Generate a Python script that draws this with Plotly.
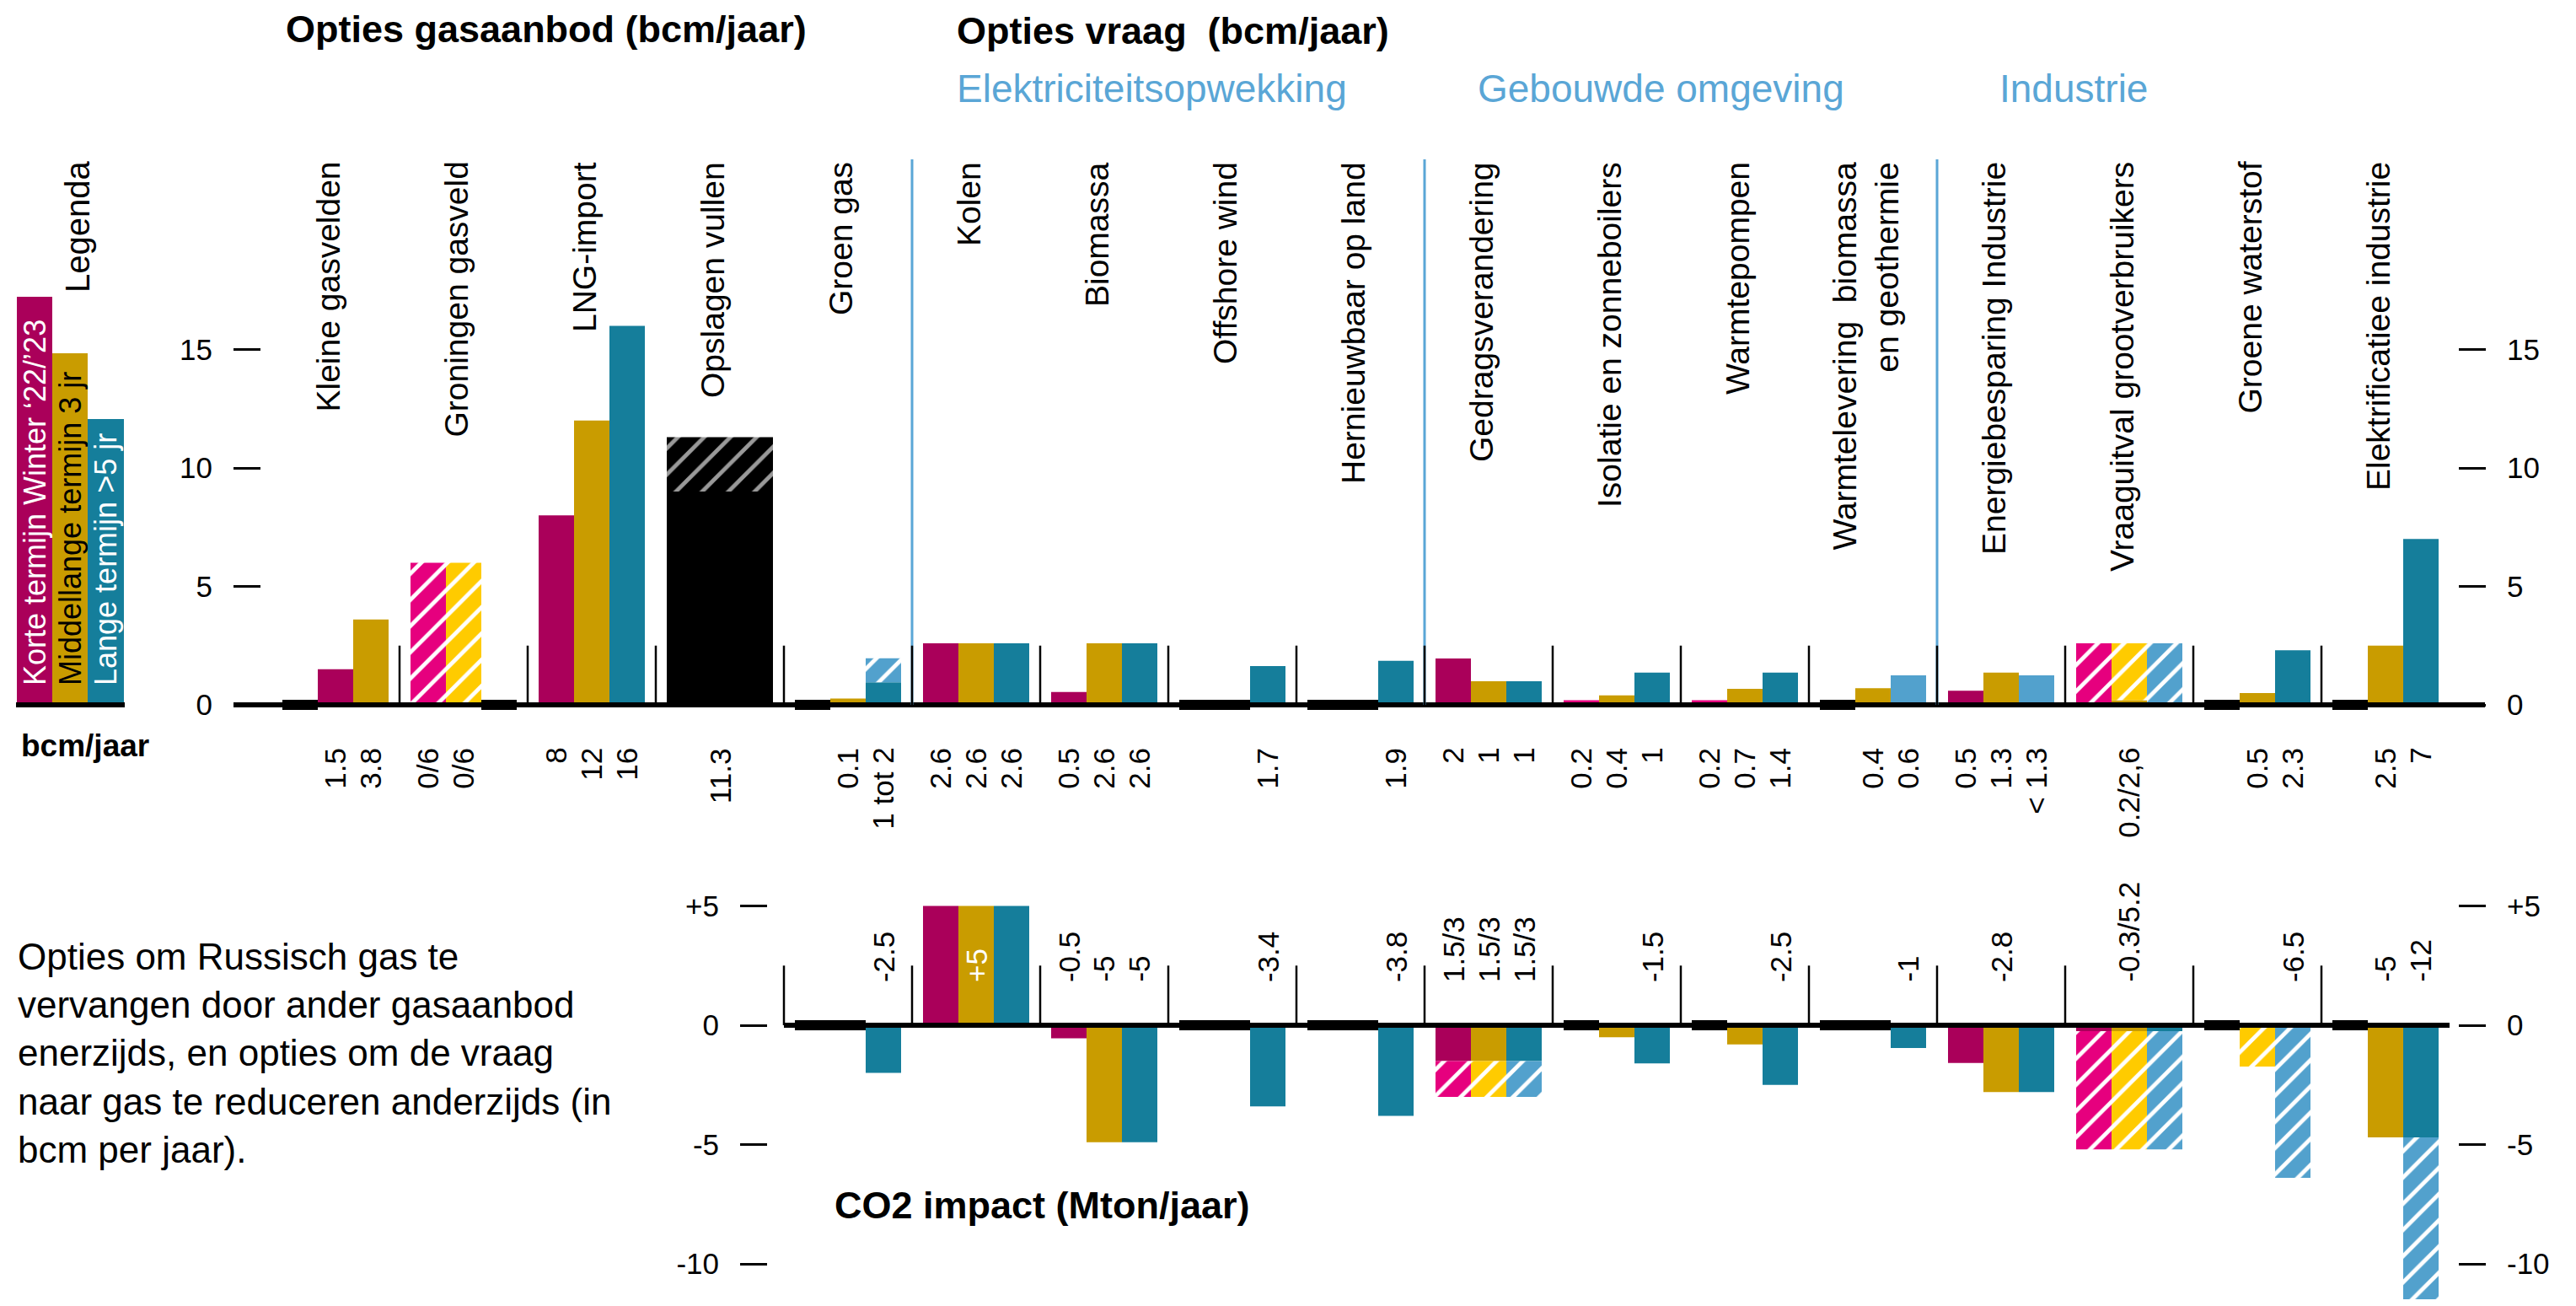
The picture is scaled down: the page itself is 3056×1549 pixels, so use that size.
import plotly.graph_objects as go

W, H = 3056, 1549          # browser window
OFF = 8                    # default page margin around the figure
FW, FH = W - 2 * OFF, H - 2 * OFF
FONT = "Liberation Sans, Arial, Helvetica, sans-serif"

# ---------------- data ----------------
categories = [
    "Kleine gasvelden", "Groningen gasveld", "LNG-import", "Opslagen vullen", "Groen gas",
    "Kolen", "Biomassa", "Offshore wind", "Hernieuwbaar op land",
    "Gedragsverandering", "Isolatie en zonneboilers", "Warmtepompen",
    "Warmtelevering&nbsp; biomassa<br>en geothermie",
    "Energiebesparing Industrie", "Vraaguitval grootverbruikers", "Groene waterstof",
    "Elektrificatiee industrie",
]
sectors = ["Elektriciteitsopwekking", "Gebouwde omgeving", "Industrie"]
terms = ["Korte termijn Winter \u201822/\u201923", "Middellange termijn 3 jr", "Lange termijn >5 jr"]

# gas volumes (bcm/jaar), solid part
gas_short = [1.5, None, 8, None, None, 2.6, 0.54, None, None, 1.96, 0.2, 0.2, None, 0.6, None, None, None]
gas_mid = [3.6, None, 12, None, 0.27, 2.6, 2.6, None, None, 1.0, 0.4, 0.68, 0.7, 1.36, 0.2, 0.5, 2.5]
gas_long = [None, None, 16, None, 0.95, 2.6, 2.6, 1.64, 1.86, 1.0, 1.36, 1.36, 1.25, 1.25, None, 2.3, 7.0]
gas_all = [None, None, None, 9.0, None, None, None, None, None, None, None, None, None, None, None, None, None]
# uncertain ranges (hatched), (from, to)
gas_short_range = [None, (0, 6.0), None, None, None, None, None, None, None, None, None, None, None, None, (0, 2.6), None, None]
gas_mid_range = [None, (0, 6.0), None, None, None, None, None, None, None, None, None, None, None, None, (0.2, 2.6), None, None]
gas_long_range = [None, None, None, None, (0.95, 1.97), None, None, None, None, None, None, None, None, None, (0, 2.6), None, None]
gas_all_range = [None, None, None, (9.0, 11.3), None, None, None, None, None, None, None, None, None, None, None, None, None]
# "no contribution" markers per category (term slots)
gas_none = [[0], [2], [], [], [0], [], [], [0, 1], [0, 1], [], [], [], [0], [], [], [0], [0]]

gas_labels = [
    ["", "1.5", "3.8"], ["0/6", "0/6", ""], ["8", "12", "16"], ["", "11.3", ""], ["", "0.1", "1 tot 2"],
    ["2.6", "2.6", "2.6"], ["0.5", "2.6", "2.6"], ["", "", "1.7"], ["", "", "1.9"],
    ["2", "1", "1"], ["0.2", "0.4", "1"], ["0.2", "0.7", "1.4"], ["", "0.4", "0.6"],
    ["0.5", "1.3", "&lt; 1.3"], ["", "0.2/2,6", ""], ["", "0.5", "2.3"], ["", "2.5", "7"],
]

# CO2 impact (Mton/jaar), solid part
co2_short = [None, None, None, None, None, 5.0, -0.55, None, None, -1.5, None, None, None, -1.58, -0.25, None, None]
co2_mid = [None, None, None, None, None, 5.0, -4.9, None, None, -1.5, -0.5, -0.8, None, -2.8, -0.25, None, -4.7]
co2_long = [None, None, None, None, -2.0, 5.0, -4.9, -3.4, -3.8, -1.5, -1.6, -2.5, -0.95, -2.8, -0.25, None, -4.7]
co2_short_range = [None] * 9 + [(-1.5, -3.0), None, None, None, None, (-0.25, -5.2), None, None]
co2_mid_range = [None] * 9 + [(-1.5, -3.0), None, None, None, None, (-0.25, -5.2), (0, -1.73), None]
co2_long_range = [None] * 9 + [(-1.5, -3.0), None, None, None, None, (-0.25, -5.2), (0, -6.4), (-4.7, -12.0)]
co2_none = [[], [], [], [], [0, 1], [], [], [0, 1], [0, 1], [], [0], [0], [0, 1], [], [], [0], [0]]

co2_labels = [
    ["", "", ""], ["", "", ""], ["", "", ""], ["", "", ""], ["", "", "-2.5"],
    ["", "+5", ""], ["-0.5", "-5", "-5"], ["", "", "-3.4"], ["", "", "-3.8"],
    ["1.5/3", "1.5/3", "1.5/3"], ["", "", "-1.5"], ["", "", "-2.5"], ["", "", "-1"],
    ["", "-2.8", ""], ["", "-0.3/5.2", ""], ["", "", "-6.5"], ["", "-5", "-12"],
]

gas_ticks = [0, 5, 10, 15]
co2_ticks = [5, 0, -5, -10]
co2_ticktext = ["+5", "0", "-5", "-10"]

# ---------------- styling / layout helpers ----------------
MAG, GOLD, TEAL = "#AA005A", "#C99C00", "#157E9B"
PINK, YELLOW, LBLUE = "#E6007E", "#FFCB00", "#52A1CD"
LINEBLUE = "#5AA6D6"
BLACK = "#000000"

term_colors = [MAG, GOLD, TEAL]
range_colors = [PINK, YELLOW, LBLUE]
gas_bright = [{10, 11}, set(), {12, 13}]     # solid bars drawn in the light tone
slot_shift = [1] + [0] * 16                 # first group starts one slot later

# page-pixel geometry
GROUP_PX, X0_PX = 152.0, 398.0
SLOT = 42.0 / GROUP_PX
TOP_ZERO, TOP_UNIT = 836.0, 28.1
BOT_ZERO, BOT_UNIT = 1216.0, 28.3


def px_x(p):
    return (p - X0_PX) / GROUP_PX


def paper_x(p):
    return (p - OFF) / FW


def paper_y(p):
    return 1 - (p - OFF) / FH


def slot_x(i, s):
    return i + (s - 1) * SLOT


x_range = [px_x(OFF), px_x(OFF + FW)]
y_top_range = [(TOP_ZERO - OFF - FH) / TOP_UNIT, (TOP_ZERO - OFF) / TOP_UNIT]
y_bot_range = [(BOT_ZERO - OFF - FH) / BOT_UNIT, (BOT_ZERO - OFF) / BOT_UNIT]

fig = go.Figure()


def add_bars(xs, bases, heights, widths, color, yaxis, fg=None):
    if not xs:
        return
    marker = dict(color=color, line=dict(width=0))
    if fg is not None:
        marker["pattern"] = dict(shape="/", fgcolor=fg, bgcolor=color, size=22, solidity=0.22,
                                 fillmode="replace")
    fig.add_trace(go.Bar(x=xs, y=heights, base=bases, width=widths, marker=marker,
                         yaxis=yaxis, showlegend=False, hoverinfo="skip"))


def build(series, ranges, none_slots, yaxis, bright=None, shift=None):
    n = len(categories)
    for t, vals in enumerate(series):
        groups = {}
        for i in range(n):
            v = vals[i]
            if v is None:
                continue
            s = t + (shift[i] if shift and t < 2 else 0)
            col = range_colors[t] if (bright and i in bright[t]) else term_colors[t]
            g = groups.setdefault(col, ([], [], [], []))
            g[0].append(slot_x(i, s)); g[1].append(0); g[2].append(v); g[3].append(SLOT)
        for col, g in groups.items():
            add_bars(*g, col, yaxis)
    for t, rng in enumerate(ranges):
        xs, bs, hs, ws = [], [], [], []
        for i in range(n):
            r = rng[i]
            if r is None:
                continue
            xs.append(slot_x(i, t)); bs.append(r[0]); hs.append(r[1] - r[0]); ws.append(SLOT)
        add_bars(xs, bs, hs, ws, range_colors[t], yaxis, fg="white")
    xs, bs, hs, ws = [], [], [], []
    for i, slots in enumerate(none_slots):
        for s in slots:
            xs.append(slot_x(i, s)); bs.append(-0.21); hs.append(0.42); ws.append(SLOT)
    add_bars(xs, bs, hs, ws, BLACK, yaxis)


build([gas_short, gas_mid, gas_long], [gas_short_range, gas_mid_range, gas_long_range],
      gas_none, "y", bright=gas_bright, shift=slot_shift)
# storage: one wide bar over all three terms
add_bars([slot_x(i, 1) for i, v in enumerate(gas_all) if v is not None], 0,
         [v for v in gas_all if v is not None], 3 * SLOT, BLACK, "y")
add_bars([slot_x(i, 1) for i, r in enumerate(gas_all_range) if r is not None],
         [r[0] for r in gas_all_range if r is not None],
         [r[1] - r[0] for r in gas_all_range if r is not None], 3 * SLOT, BLACK, "y", fg="#9A9A9A")

build([co2_short, co2_mid, co2_long], [co2_short_range, co2_mid_range, co2_long_range],
      co2_none, "y2")

# ---------------- shapes ----------------
shapes = []
# baselines
shapes.append(dict(type="line", xref="x", yref="y", x0=px_x(277), x1=px_x(2948), y0=0, y1=0,
                   line=dict(color=BLACK, width=6)))
shapes.append(dict(type="line", xref="x", yref="y2", x0=3.5, x1=len(categories) - 0.5, y0=0, y1=0,
                   line=dict(color=BLACK, width=6)))
# sector dividers (tall blue)
for b in (4.5, 8.5, 12.5):
    shapes.append(dict(type="line", xref="x", yref="y", x0=b, x1=b, y0=0, y1=(TOP_ZERO - 189) / TOP_UNIT,
                       line=dict(color=LINEBLUE, width=3)))
# group separators
for i in range(len(categories) - 1):
    b = i + 0.5
    shapes.append(dict(type="line", xref="x", yref="y", x0=b, x1=b, y0=0, y1=2.5,
                       line=dict(color=BLACK, width=2.5)))
    if i >= 3:
        shapes.append(dict(type="line", xref="x", yref="y2", x0=b, x1=b, y0=0, y1=2.5,
                           line=dict(color=BLACK, width=2.5)))
# legend blocks
leg_px = [(20, 62, 352), (62, 104, 419), (104, 147, 497)]
for (a, b, top), col in zip(leg_px, term_colors):
    shapes.append(dict(type="rect", xref="paper", yref="paper", x0=paper_x(a), x1=paper_x(b),
                       y0=paper_y(TOP_ZERO), y1=paper_y(top), fillcolor=col, line=dict(width=0), layer="below"))
shapes.append(dict(type="line", xref="paper", yref="paper", x0=paper_x(19), x1=paper_x(148),
                   y0=paper_y(TOP_ZERO), y1=paper_y(TOP_ZERO), line=dict(color=BLACK, width=6)))

# ---------------- annotations ----------------
ann = []


def text(x, y, s, size, xanchor="left", yanchor="middle", color=BLACK, angle=0, xref="paper", yref="paper",
         align="left", xshift=0):
    ann.append(dict(x=x, y=y, xref=xref, yref=yref, text=s, showarrow=False, xanchor=xanchor,
                    yanchor=yanchor, textangle=angle, align=align, xshift=xshift,
                    font=dict(family=FONT, size=size, color=color)))


text(paper_x(337), paper_y(34), "<b>Opties gasaanbod (bcm/jaar)</b>", 45)
text(paper_x(1133), paper_y(36), "<b>Opties vraag&nbsp; (bcm/jaar)</b>", 45)
for s, xp in zip(sectors, (1133, 1751, 2370)):
    text(paper_x(xp), paper_y(105), s, 46, color=LINEBLUE)
text(paper_x(988), paper_y(1429), "<b>CO2 impact (Mton/jaar)</b>", 45)
text(paper_x(23), paper_y(884), "<b>bcm/jaar</b>", 37)
text(paper_x(19), paper_y(1249),
     "Opties om Russisch gas te<br>vervangen door ander gasaanbod<br>enerzijds, en opties om de vraag"
     "<br>naar gas te reduceren anderzijds (in<br>bcm per jaar).", 44)
text(paper_x(92), paper_y(189), "Legenda", 40, xanchor="center", yanchor="top", angle=-90, align="right")
for (a, b, top), s, c in zip(leg_px, terms, ["white", BLACK, "white"]):
    text(paper_x((a + b) / 2), paper_y(815), s, 36, xanchor="center", yanchor="bottom", angle=-90, color=c)

for i, c in enumerate(categories):
    text(i, paper_y(190), c, 39, xanchor="center", yanchor="top", angle=-90, xref="x", align="right",
         xshift=-9)

for i, labs in enumerate(gas_labels):
    for s, lab in enumerate(labs):
        if lab:
            text(slot_x(i, s), -1.75, lab, 35, xanchor="center", yanchor="top", angle=-90,
                 xref="x", yref="y", align="right")
for i, labs in enumerate(co2_labels):
    for s, lab in enumerate(labs):
        if lab:
            col = "white" if (co2_short[i] or 0) > 0 and s == 1 else BLACK
            text(slot_x(i, s), 1.73, lab, 35, xanchor="center", yanchor="bottom", angle=-90,
                 xref="x", yref="y2", color=col)

# ---------------- axes ----------------
tickfont = dict(family=FONT, size=35, color=BLACK)
common = dict(showgrid=False, zeroline=False, showline=False, ticks="outside", ticklen=32, tickwidth=3,
              tickcolor=BLACK, tickfont=tickfont, fixedrange=True, anchor="free", ticklabelstandoff=18)

fig.update_layout(
    width=FW, height=FH, margin=dict(l=0, r=0, t=0, b=0),
    paper_bgcolor="white", plot_bgcolor="white",
    barmode="overlay", showlegend=False, hovermode=False,
    xaxis=dict(range=x_range, visible=False, fixedrange=True, domain=[0, 1]),
    yaxis=dict(range=y_top_range, tickvals=gas_ticks, position=paper_x(309), side="left", domain=[0, 1],
               **common),
    yaxis2=dict(range=y_bot_range, tickvals=co2_ticks, ticktext=co2_ticktext, position=paper_x(910),
                side="left", overlaying="y", **common),
    yaxis3=dict(range=y_top_range, tickvals=gas_ticks, position=paper_x(2916), side="right", overlaying="y",
                **common),
    yaxis4=dict(range=y_bot_range, tickvals=co2_ticks, ticktext=co2_ticktext, position=paper_x(2916),
                side="right", overlaying="y", **common),
    shapes=shapes, annotations=ann,
)
# make sure the right-hand axes are drawn
fig.add_trace(go.Scatter(x=[None], y=[None], yaxis="y3", showlegend=False, hoverinfo="skip"))
fig.add_trace(go.Scatter(x=[None], y=[None], yaxis="y4", showlegend=False, hoverinfo="skip"))

fig.write_html("out.html")
